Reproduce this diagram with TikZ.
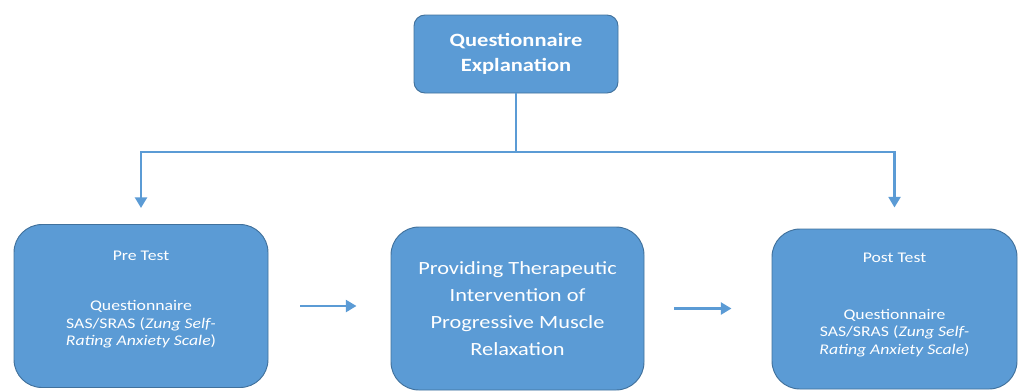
\documentclass[tikz,border=0pt]{standalone}
\usepackage{fontspec}
\setmainfont{Carlito}[FakeStretch=1.2]
\usepackage{tikz}
\usetikzlibrary{arrows.meta}
\definecolor{boxblue}{HTML}{5B9BD5}
\definecolor{edgeblue}{HTML}{41719C}
\newcommand{\px}{0.03cm}

\begin{document}
\begin{tikzpicture}[x=\px,y=-\px,
	box/.style={draw=edgeblue,line width=0.8pt,fill=boxblue,text=white,align=center,inner sep=0pt},
	sidebox/.style={box,rounded corners=28*\px,minimum width=254*\px,minimum height=163*\px,text depth=13pt,font=\fontsize{12.6}{15}\selectfont},
	link/.style={draw=boxblue,line width=2.5pt,-{Triangle[length=9pt,width=10pt]}}]
	\useasboundingbox (0,0) rectangle (1021,390);
	\node[box,rounded corners=11*\px,minimum width=204*\px,minimum height=78*\px,font=\fontsize{16}{21.3}\selectfont\bfseries] (expl) at (516,54) {Questionnaire\\Explanation};
	\node[sidebox] (pre) at (141,306) {Pre Test\\[28pt]Questionnaire\\SAS/SRAS (\textit{Zung Self-}\\\textit{Rating Anxiety Scale})};
	\node[box,rounded corners=28*\px,minimum width=253*\px,minimum height=163*\px,font=\fontsize{15.9}{23}\selectfont] (pmr) at (517.5,308.5) {Providing Therapeutic\\Intervention of\\Progressive Muscle\\Relaxation};
	\node[sidebox,minimum width=245*\px,minimum height=160*\px,text depth=9pt] (post) at (894.5,309) {Post Test\\[33pt]Questionnaire\\SAS/SRAS (\textit{Zung Self-}\\\textit{Rating Anxiety Scale})};
	\coordinate (bus) at (516,152);
	\draw[link,-] (expl) -- (bus);
	\draw[link,shorten >=0.48cm] (bus) -| (pre.north);
	\draw[link,shorten >=0.63cm] (bus) -| (post.north);
	\draw[link,shorten <=0.96cm,shorten >=1.02cm] (pre) -- (pmr.west |- pre);
	\draw[link,shorten <=0.9cm,shorten >=1.2cm] (pmr) -- (post.west |- pmr);
\end{tikzpicture}
\end{document}
